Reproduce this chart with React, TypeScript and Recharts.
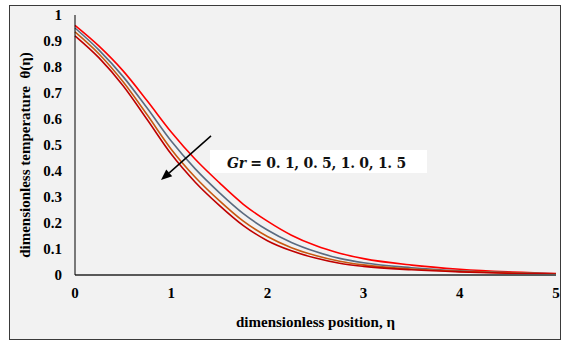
import {
  LineChart,
  Line,
  XAxis,
  YAxis,
  ReferenceArea,
  ReferenceLine,
} from "recharts";

const eta = [0, 0.25, 0.5, 0.75, 1, 1.25, 1.5, 1.75, 2, 2.25, 2.5, 2.75, 3, 3.5, 4, 4.5, 5];

const grLow = [0.96, 0.88, 0.785, 0.67, 0.55, 0.445, 0.355, 0.272, 0.207, 0.153, 0.113, 0.084, 0.063, 0.038, 0.022, 0.012, 0.006];
const grMid1 = [0.95, 0.865, 0.763, 0.642, 0.515, 0.408, 0.317, 0.236, 0.173, 0.125, 0.09, 0.064, 0.047, 0.028, 0.016, 0.009, 0.005];
const grMid2 = [0.935, 0.85, 0.743, 0.616, 0.484, 0.376, 0.286, 0.207, 0.148, 0.105, 0.075, 0.053, 0.039, 0.023, 0.014, 0.008, 0.004];
const grHigh = [0.92, 0.835, 0.728, 0.598, 0.465, 0.357, 0.268, 0.19, 0.132, 0.093, 0.065, 0.045, 0.033, 0.02, 0.012, 0.007, 0.004];

const xTicks = [0, 1, 2, 3, 4, 5];
const yTicks = [0, 0.1, 0.2, 0.3, 0.4, 0.5, 0.6, 0.7, 0.8, 0.9, 1];

const data = eta.map((e, i) => ({
  eta: e,
  a: grLow[i],
  b: grMid1[i],
  c: grMid2[i],
  d: grHigh[i],
}));

const font = "'Liberation Serif', 'Times New Roman', serif";

const Arrow = (props: any) => {
  const { x1, y1, x2, y2 } = props;
  const ang = Math.atan2(y2 - y1, x2 - x1);
  const len = 11;
  const w = 4.5;
  const bx = x2 - len * Math.cos(ang);
  const by = y2 - len * Math.sin(ang);
  const px = -Math.sin(ang) * w;
  const py = Math.cos(ang) * w;
  return (
    <g>
      <line x1={x1} y1={y1} x2={bx} y2={by} stroke="#000" strokeWidth={1.5} />
      <polygon
        points={`${x2},${y2} ${bx + px},${by + py} ${bx - px},${by - py}`}
        fill="#000"
      />
    </g>
  );
};

const GrLabel = (props: any) => {
  const { viewBox } = props;
  const cx = viewBox.x + viewBox.width / 2;
  const cy = viewBox.y + viewBox.height / 2;
  return (
    <text
      x={cx - 2}
      y={cy + 6}
      textAnchor="middle"
      fontFamily="'DejaVu Serif', serif"
      fontWeight="bold"
      fontSize={14}
      letterSpacing={-0.3}
      fill="#111"
    >
      <tspan fontStyle="italic">Gr</tspan>
      <tspan> = 0. 1, 0. 5, 1. 0, 1. 5</tspan>
    </text>
  );
};

const YLabel = () => (
  <text
    x={30}
    y={155}
    transform="rotate(-90 30 155)"
    textAnchor="middle"
    fontFamily={font}
    fontWeight="bold"
    fontSize={15}
    fill="#000"
  >
    dimensionless temperature{"\u00a0\u00a0"}θ(η)
  </text>
);

export default function App() {
  return (
    <div style={{ position: "absolute", left: 0, top: 0, width: 561, height: 345, background: "#fff" }}>
      <div
        style={{
          position: "absolute",
          left: 9,
          top: 5,
          width: 552,
          height: 335,
          boxSizing: "border-box",
          border: "1px solid #3a3a3a",
          background: "#f2f2f2",
        }}
      />
      <div style={{ position: "absolute", left: 0, top: 0 }}>
        <LineChart
          width={561}
          height={345}
          data={data}
          margin={{ top: 15, right: 5, left: 0, bottom: 0 }}
        >
          <XAxis
            dataKey="eta"
            type="number"
            domain={[0, 5]}
            ticks={xTicks}
            height={70}
            tickLine={false}
            tickSize={0}
            tickMargin={12}
            axisLine={{ stroke: "#595959", strokeWidth: 2 }}
            tick={{ fontFamily: font, fontWeight: "bold", fontSize: 15, fill: "#000" }}
            label={{
              value: "dimensionless position, η",
              position: "insideBottom",
              offset: 18,
              style: { fontFamily: font, fontWeight: "bold", fontSize: 15, fill: "#000" },
            }}
          />
          <YAxis
            type="number"
            domain={[0, 1]}
            ticks={yTicks}
            width={75}
            tickLine={false}
            tickSize={0}
            tickMargin={13}
            axisLine={{ stroke: "#000", strokeWidth: 1 }}
            tick={{ fontFamily: font, fontWeight: "bold", fontSize: 15, fill: "#000" }}
            label={<YLabel />}
          />
          <ReferenceArea
            x1={1.403}
            x2={3.659}
            y1={0.392}
            y2={0.481}
            fill="#ffffff"
            fillOpacity={1}
            stroke="none"
            label={<GrLabel />}
          />
          <Line type="monotone" dataKey="a" stroke="#ff0000" strokeWidth={1.6} dot={false} isAnimationActive={false} />
          <Line type="monotone" dataKey="b" stroke="#5a6b80" strokeWidth={1.6} dot={false} isAnimationActive={false} />
          <Line type="monotone" dataKey="c" stroke="#c65911" strokeWidth={1.6} dot={false} isAnimationActive={false} />
          <Line type="monotone" dataKey="d" stroke="#c00000" strokeWidth={1.6} dot={false} isAnimationActive={false} />
          <ReferenceLine
            segment={[
              { x: 1.414, y: 0.535 },
              { x: 0.894, y: 0.365 },
            ]}
            shape={<Arrow />}
          />
        </LineChart>
      </div>
    </div>
  );
}
